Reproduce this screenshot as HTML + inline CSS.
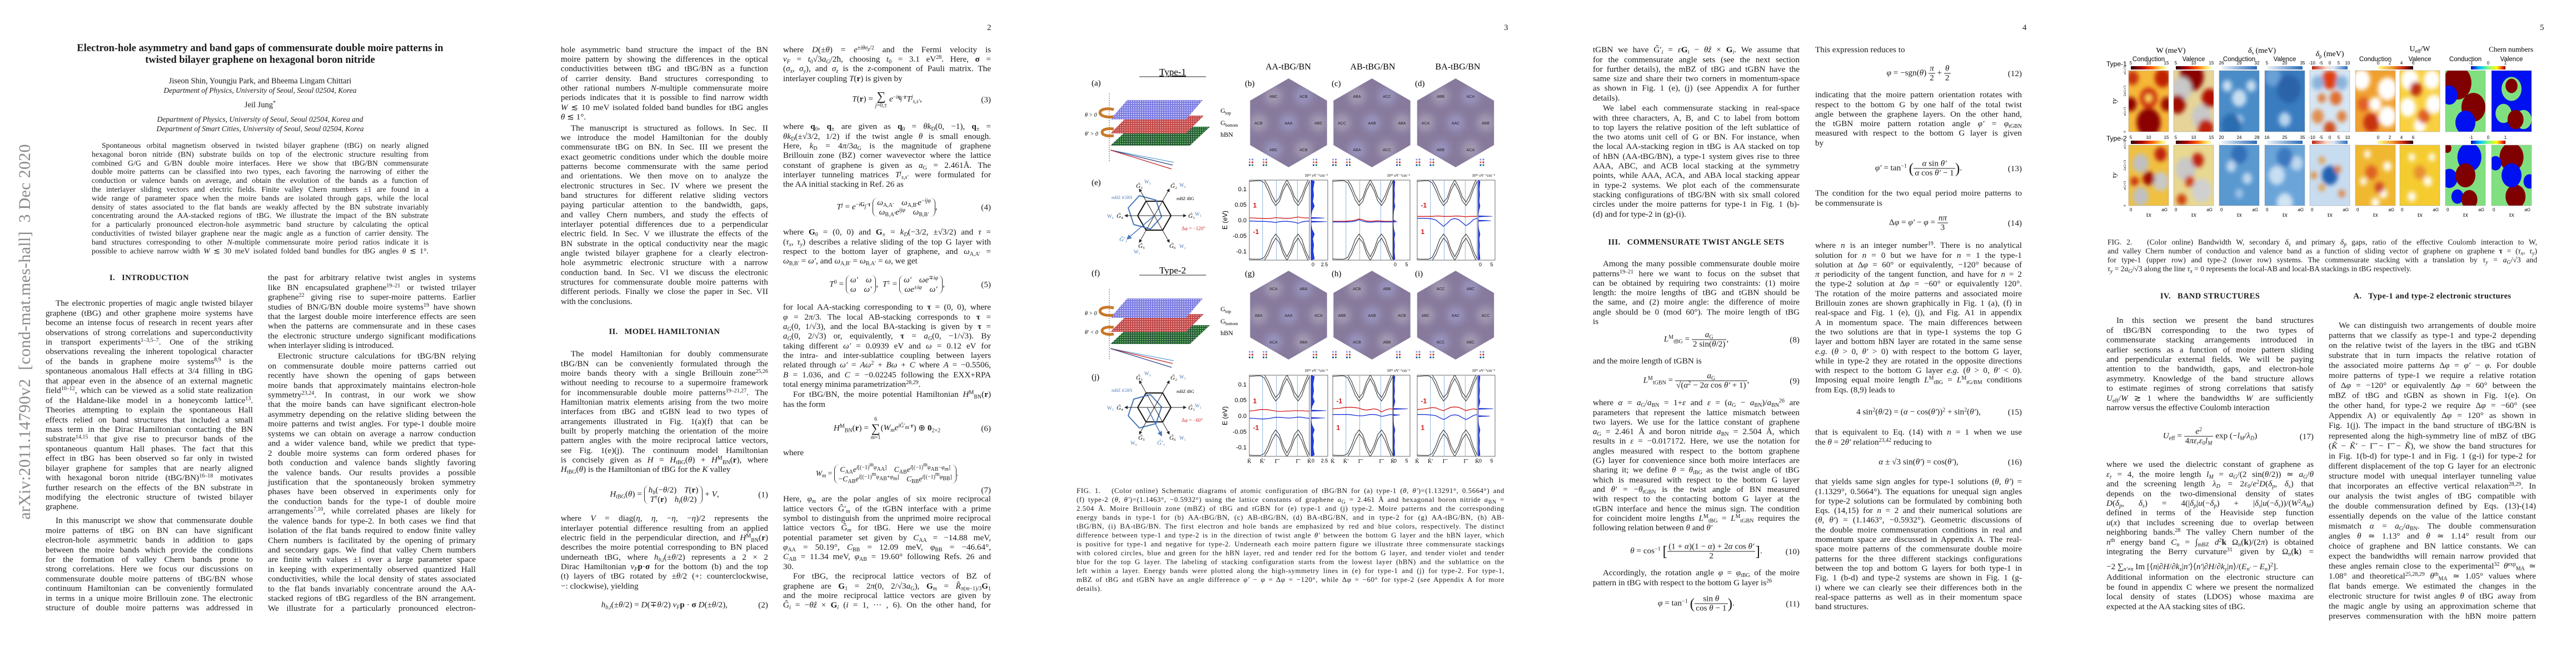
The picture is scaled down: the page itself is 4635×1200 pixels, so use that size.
<!DOCTYPE html>
<html>
<head>
<meta charset="utf-8">
<style>
html,body{margin:0;padding:0;background:#fff;}
body{width:4635px;height:1200px;position:relative;overflow:hidden;font-family:"Liberation Serif",serif;color:#1a1a1a;}
.pg{position:absolute;top:0;width:927px;height:1200px;background:#fff;overflow:hidden;}
.pn{position:absolute;top:41px;font-size:15px;line-height:18px;}
.col{position:absolute;top:0;height:1200px;}
.blk{position:absolute;left:0;width:100%;font-size:15.2px;}
.blk>div{white-space:nowrap;text-align:justify;text-align-last:justify;height:var(--lh,17.4px);line-height:var(--lh,17.4px);}
.blk>div.e{text-align-last:left;}
.blk>div.i{text-indent:18px;}
sup{font-size:10px;line-height:0;vertical-align:5px;}
sub{font-size:10px;line-height:0;vertical-align:-3px;}
.h{position:absolute;left:0;width:100%;text-align:center;font-weight:bold;font-size:14.5px;letter-spacing:0.4px;line-height:18px;}
.eq{position:absolute;left:0;width:100%;text-align:center;font-size:15.2px;line-height:17px;transform:translateY(-50%);white-space:nowrap;}
.eq .n{position:absolute;right:0;top:50%;transform:translateY(-50%);}
.mat{display:inline-block;vertical-align:middle;border-left:1.5px solid #222;border-right:1.5px solid #222;border-radius:9px;padding:0 7px;line-height:17px;text-align:center;}
.mat>span{display:block;word-spacing:10px;}
.fr{display:inline-block;vertical-align:middle;text-align:center;line-height:16px;}
.fr>span{display:block;padding:0 2px;}
.fr>span:first-child{border-bottom:1px solid #222;}
.sm{display:inline-block;vertical-align:middle;text-align:center;line-height:11px;font-size:10px;}
.sm b{display:block;font-size:22px;line-height:22px;font-weight:normal;}
.cap{position:absolute;white-space:nowrap;text-align:justify;text-align-last:justify;}
</style>
</head>
<body>

<!-- ================= PAGE 1 ================= -->
<div class="pg" style="left:0">
  <div style="position:absolute;left:45px;top:597px;transform:translate(-50%,-50%) rotate(-90deg);white-space:nowrap;font-size:30px;color:#8a8a8a;letter-spacing:0.3px;">arXiv:2011.14790v2&nbsp; [cond-mat.mes-hall]&nbsp; 3 Dec 2020</div>
  <div style="position:absolute;left:40px;width:856px;top:77px;text-align:center;font-weight:bold;font-size:18.5px;line-height:21px;white-space:nowrap;">Electron-hole asymmetry and band gaps of commensurate double moire patterns in<br>twisted bilayer graphene on hexagonal boron nitride</div>
  <div style="position:absolute;left:68px;width:800px;top:0;text-align:center;font-size:14.5px;">
    <div style="position:absolute;top:138px;width:100%;">Jiseon Shin, Youngju Park, and Bheema Lingam Chittari</div>
    <div style="position:absolute;top:155px;width:100%;font-style:italic;font-size:13.5px;">Department of Physics, University of Seoul, Seoul 02504, Korea</div>
    <div style="position:absolute;top:181px;width:100%;">Jeil Jung<sup>*</sup></div>
    <div style="position:absolute;top:207px;width:100%;font-style:italic;font-size:13.5px;">Department of Physics, University of Seoul, Seoul 02504, Korea and</div>
    <div style="position:absolute;top:224px;width:100%;font-style:italic;font-size:13.5px;">Department of Smart Cities, University of Seoul, Seoul 02504, Korea</div>
  </div>
  <div class="col" style="left:165px;width:606px;">
    <div class="blk" style="top:254px;--lh:15.8px;font-size:13.8px;">
      <div class="i">Spontaneous orbital magnetism observed in twisted bilayer graphene (tBG) on nearly aligned</div>
      <div>hexagonal boron nitride (BN) substrate builds on top of the electronic structure resulting from</div>
      <div>combined G/G and G/BN double moire interfaces. Here we show that tBG/BN commensurate</div>
      <div>double moire patterns can be classified into two types, each favoring the narrowing of either the</div>
      <div>conduction or valence bands on average, and obtain the evolution of the bands as a function of</div>
      <div>the interlayer sliding vectors and electric fields. Finite valley Chern numbers ±1 are found in a</div>
      <div>wide range of parameter space when the moire bands are isolated through gaps, while the local</div>
      <div>density of states associated to the flat bands are weakly affected by the BN substrate invariably</div>
      <div>concentrating around the AA-stacked regions of tBG. We illustrate the impact of the BN substrate</div>
      <div>for a particularly pronounced electron-hole asymmetric band structure by calculating the optical</div>
      <div>conductivities of twisted bilayer graphene near the magic angle as a function of carrier density. The</div>
      <div>band structures corresponding to other <i>N</i>-multiple commensurate moire period ratios indicate it is</div>
      <div>possible to achieve narrow width <i>W</i> ≲ 30 meV isolated folded band bundles for tBG angles <i>θ</i> ≲ 1°.</div>
    </div>
  </div>
  <div class="col" style="left:82px;width:373px;">
    <div class="h" style="top:491px;">I.&nbsp;&nbsp; INTRODUCTION</div>
    <div class="blk" style="top:537.3px;--lh:17.45px;">
      <div class="i">The electronic properties of magic angle twisted bilayer</div>
      <div>graphene (tBG) and other graphene moire systems have</div>
      <div>become an intense focus of research in recent years after</div>
      <div>observations of strong correlations and superconductivity</div>
      <div>in transport experiments<sup>1–3,5–7</sup>. One of the striking</div>
      <div>observations revealing the inherent topological character</div>
      <div>of the bands in graphene moire systems<sup>8,9</sup> is the</div>
      <div>spontaneous anomalous Hall effects at 3/4 filling in tBG</div>
      <div>that appear even in the absence of an external magnetic</div>
      <div>field<sup>10–12</sup>, which can be viewed as a solid state realization</div>
      <div>of the Haldane-like model in a honeycomb lattice<sup>13</sup>.</div>
      <div>Theories attempting to explain the spontaneous Hall</div>
      <div>effects relied on band structures that included a small</div>
      <div>mass term in the Dirac Hamiltonian contacting the BN</div>
      <div>substrate<sup>14,15</sup> that give rise to precursor bands of the</div>
      <div>spontaneous quantum Hall phases. The fact that this</div>
      <div>effect in tBG has been observed so far only in twisted</div>
      <div>bilayer graphene for samples that are nearly aligned</div>
      <div>with hexagonal boron nitride (tBG/BN)<sup>16–18</sup> motivates</div>
      <div>further research on the effects of the BN substrate in</div>
      <div>modifying the electronic structure of twisted bilayer</div>
      <div class="e">graphene.</div>
    </div>
    <div class="blk" style="top:928.3px;--lh:17.45px;">
      <div class="i">In this manuscript we show that commensurate double</div>
      <div>moire patterns of tBG on BN can have significant</div>
      <div>electron-hole asymmetric bands in addition to gaps</div>
      <div>between the moire bands which provide the conditions</div>
      <div>for the formation of valley Chern bands prone to</div>
      <div>strong correlations. Here we focus our discussions on</div>
      <div>commensurate double moire patterns of tBG/BN whose</div>
      <div>continuum Hamiltonian can be conveniently formulated</div>
      <div>in terms in a unique moire Brillouin zone. The electronic</div>
      <div>structure of double moire patterns was addressed in</div>
    </div>
  </div>
  <div class="col" style="left:482px;width:374px;">
    <div class="blk" style="top:491.3px;--lh:17.45px;">
      <div>the past for arbitrary relative twist angles in systems</div>
      <div>like BN encapsulated graphene<sup>19–21</sup> or twisted trilayer</div>
      <div>graphene<sup>22</sup> giving rise to super-moire patterns. Earlier</div>
      <div>studies of BN/G/BN double moire systems<sup>19</sup> have shown</div>
      <div>that the largest double moire interference effects are seen</div>
      <div>when the patterns are commensurate and in these cases</div>
      <div>the electronic structure undergo significant modifications</div>
      <div class="e">when interlayer sliding is introduced.</div>
    </div>
    <div class="blk" style="top:632.3px;--lh:17.45px;">
      <div class="i">Electronic structure calculations for tBG/BN relying</div>
      <div>on commensurate double moire patterns carried out</div>
      <div>recently have shown the opening of gaps between</div>
      <div>moire bands that approximately maintains electron-hole</div>
      <div>symmetry<sup>23,24</sup>. In contrast, in our work we show</div>
      <div>that the moire bands can have significant electron-hole</div>
      <div>asymmetry depending on the relative sliding between the</div>
      <div>moire patterns and twist angles. For type-1 double moire</div>
      <div>systems we can obtain on average a narrow conduction</div>
      <div>and a wider valence band, while we predict that type-</div>
      <div>2 double moire systems can form ordered phases for</div>
      <div>both conduction and valence bands slightly favoring</div>
      <div>the valence bands. Our results provides a possible</div>
      <div>justification that the spontaneously broken symmetry</div>
      <div>phases have been observed in experiments only for</div>
      <div>the conduction bands for the type-1 of double moire</div>
      <div>arrangements<sup>7,10</sup>, while correlated phases are likely for</div>
      <div>the valence bands for type-2. In both cases we find that</div>
      <div>isolation of the flat bands required to endow finite valley</div>
      <div>Chern numbers is facilitated by the opening of primary</div>
      <div>and secondary gaps. We find that valley Chern numbers</div>
      <div>are finite with values ±1 over a large parameter space</div>
      <div>in keeping with experimentally observed quantized Hall</div>
      <div>conductivities, while the local density of states associated</div>
      <div>to the flat bands invariably concentrate around the AA-</div>
      <div>stacked regions of tBG regardless of the BN arrangement.</div>
      <div>We illustrate for a particularly pronounced electron-</div>
    </div>
  </div>
</div>

<!-- ================= PAGE 2 ================= -->
<div class="pg" style="left:927px">
  <div class="pn" style="left:849px">2</div>
  <div class="col" style="left:82px;width:373px;">
    <div class="blk" style="top:80.7px;--lh:17.35px;">
      <div>hole asymmetric band structure the impact of the BN</div>
      <div>moire pattern by showing the differences in the optical</div>
      <div>conductivities between tBG and tBG/BN as a function</div>
      <div>of carrier density. Band structures corresponding to</div>
      <div>other rational numbers <i>N</i>-multiple commensurate moire</div>
      <div>periods indicates that it is possible to find narrow width</div>
      <div><i>W</i> ≲ 10 meV isolated folded band bundles for tBG angles</div>
      <div class="e"><i>θ</i> ≲ 1°.</div>
    </div>
    <div class="blk" style="top:221.6px;--lh:17.35px;">
      <div class="i">The manuscript is structured as follows. In Sec. II</div>
      <div>we introduce the model Hamiltonian for the doubly</div>
      <div>commensurate tBG on BN. In Sec. III we present the</div>
      <div>exact geometric conditions under which the double moire</div>
      <div>patterns become commensurate with the same period</div>
      <div>and orientations. We then move on to analyze the</div>
      <div>electronic structures in Sec. IV where we present the</div>
      <div>band structures for different relative sliding vectors</div>
      <div>paying particular attention to the bandwidth, gaps,</div>
      <div>and valley Chern numbers, and study the effects of</div>
      <div>interlayer potential differences due to a perpendicular</div>
      <div>electric field. In Sec. V we illustrate the effects of the</div>
      <div>BN substrate in the optical conductivity near the magic</div>
      <div>angle twisted bilayer graphene for a clearly electron-</div>
      <div>hole asymmetric electronic structure with a narrow</div>
      <div>conduction band. In Sec. VI we discuss the electronic</div>
      <div>structures for commensurate double moire patterns with</div>
      <div>different periods. Finally we close the paper in Sec. VII</div>
      <div class="e">with the conclusions.</div>
    </div>
    <div class="h" style="top:588px;">II.&nbsp;&nbsp; MODEL HAMILTONIAN</div>
    <div class="blk" style="top:628.3px;--lh:17.35px;">
      <div class="i">The model Hamiltonian for doubly commensurate</div>
      <div>tBG/BN can be conveniently formulated through the</div>
      <div>moire bands theory with a single Brillouin zone<sup>25,26</sup></div>
      <div>without needing to recourse to a supermoire framework</div>
      <div>for incommensurable double moire patterns<sup>19–21,27</sup>. The</div>
      <div>Hamiltonian matrix elements arising from the two moire</div>
      <div>interfaces from tBG and tGBN lead to two types of</div>
      <div>arrangements illustrated in Fig. 1(a)(f) that can be</div>
      <div>built by properly matching the orientation of the moire</div>
      <div>pattern angles with the moire reciprocal lattice vectors,</div>
      <div>see Fig. 1(e)(j). The continuum model Hamiltonian</div>
      <div>is concisely given as <i>H</i> = <i>H</i><sub>tBG</sub>(<i>θ</i>) + <i>H</i><sup>M</sup><sub>BN</sub>(<b>r</b>), where</div>
      <div class="e"><i>H</i><sub>tBG</sub>(<i>θ</i>) is the Hamiltonian of tBG for the <i>K</i> valley</div>
    </div>
    <div class="eq" style="top:890px;"><i>H</i><sub>tBG</sub>(<i>θ</i>) = <span class="mat"><span><i>h<sub>b</sub></i>(−<i>θ</i>/2) <i>T</i>(<b>r</b>)</span><span><i>T</i><sup>†</sup>(<b>r</b>) <i>h<sub>t</sub></i>(<i>θ</i>/2)</span></span> + <i>V</i>,<span class="n">(1)</span></div>
    <div class="blk" style="top:924.3px;--lh:17.35px;">
      <div>where <i>V</i> = diag(<i>η</i>, <i>η</i>, −<i>η</i>, −<i>η</i>)/2 represents the</div>
      <div>interlayer potential difference resulting from an applied</div>
      <div>electric field in the perpendicular direction, and <i>H</i><sup>M</sup><sub>BN</sub>(<b>r</b>)</div>
      <div>describes the moire potential corresponding to BN placed</div>
      <div>underneath tBG, where <i>h<sub>b,t</sub></i>(±<i>θ</i>/2) represents a 2 × 2</div>
      <div>Dirac Hamiltonian <i>v<sub>F</sub></i><b>p</b>·<b>σ</b> for the bottom (b) and the top</div>
      <div>(t) layers of tBG rotated by ±<i>θ</i>/2 (+: counterclockwise,</div>
      <div class="e">−: clockwise), yielding</div>
    </div>
    <div class="eq" style="top:1088px;"><i>h<sub>b,t</sub></i>(±<i>θ</i>/2) = <i>D</i>(∓<i>θ</i>/2) <i>v<sub>F</sub></i><b>p</b> · <b>σ</b> <i>D</i>(±<i>θ</i>/2),<span class="n">(2)</span></div>
  </div>
  <div class="col" style="left:482px;width:374px;">
    <div class="blk" style="top:80.7px;--lh:17.35px;">
      <div>where <i>D</i>(±<i>θ</i>) = <i>e</i><sup>±<i>iθσ<sub>z</sub></i>/2</sup> and the Fermi velocity is</div>
      <div><i>v<sub>F</sub></i> = <i>t</i><sub>0</sub>√3<i>a<sub>G</sub></i>/2ħ, choosing <i>t</i><sub>0</sub> = 3.1 eV<sup>28</sup>. Here, <b>σ</b> =</div>
      <div>(<i>σ<sub>x</sub></i>, <i>σ<sub>y</sub></i>), and <i>σ<sub>z</sub></i> is the <i>z</i>-component of Pauli matrix. The</div>
      <div class="e">interlayer coupling <i>T</i>(<b>r</b>) is given by</div>
    </div>
    <div class="eq" style="top:179px;"><i>T</i>(<b>r</b>) = <span class="sm"><b>∑</b><i>j</i>=0,±</span> <i>e</i><sup>−<i>i</i><b>q</b><sub><i>j</i></sub>·<b>r</b></sup><i>T</i><sup><i>j</i></sup><sub><i>s,s′</i></sub>,<span class="n">(3)</span></div>
    <div class="blk" style="top:219.3px;--lh:17.35px;">
      <div>where <b>q</b><sub>0</sub>, <b>q</b><sub>±</sub> are given as <b>q</b><sub>0</sub> = <i>θk</i><sub>D</sub>(0, −1), <b>q</b><sub>±</sub> =</div>
      <div><i>θk</i><sub>D</sub>(±√3/2, 1/2) if the twist angle <i>θ</i> is small enough.</div>
      <div>Here, <i>k</i><sub>D</sub> = 4<i>π</i>/3<i>a</i><sub>G</sub> is the magnitude of graphene</div>
      <div>Brillouin zone (BZ) corner wavevector where the lattice</div>
      <div>constant of graphene is given as <i>a</i><sub>G</sub> = 2.461Å. The</div>
      <div>interlayer tunneling matrices <i>T</i><sup><i>j</i></sup><sub><i>s,s′</i></sub> were formulated for</div>
      <div class="e">the AA initial stacking in Ref. 26 as</div>
    </div>
    <div class="eq" style="top:373px;"><i>T</i><sup><i>j</i></sup> = <i>e</i><sup>−<i>i</i><b>G</b><sub><i>j</i></sub>·<b>τ</b></sup> <span class="mat"><span><i>ω</i><sub>A,A′</sub> <i>ω</i><sub>A,B′</sub><i>e</i><sup>−<i>ijφ</i></sup></span><span><i>ω</i><sub>B,A′</sub><i>e</i><sup><i>ijφ</i></sup> <i>ω</i><sub>B,B′</sub></span></span>,<span class="n">(4)</span></div>
    <div class="blk" style="top:409.3px;--lh:17.35px;">
      <div>where <b>G</b><sub>0</sub> = (0, 0) and <b>G</b><sub>±</sub> = <i>k<sub>D</sub></i>(−3/2, ±√3/2) and <i>τ</i> =</div>
      <div>(<i>τ<sub>x</sub></i>, <i>τ<sub>y</sub></i>) describes a relative sliding of the top G layer with</div>
      <div>respect to the bottom layer of graphene, and <i>ω</i><sub>A,A′</sub> =</div>
      <div class="e"><i>ω</i><sub>B,B′</sub> = <i>ω′</i>, and <i>ω</i><sub>A,B′</sub> = <i>ω</i><sub>B,A′</sub> = <i>ω</i>, we get</div>
    </div>
    <div class="eq" style="top:512px;"><i>T</i><sup>0</sup> = <span class="mat"><span><i>ω′</i> <i>ω</i></span><span><i>ω</i> <i>ω′</i></span></span>, &nbsp;<i>T</i><sup>±</sup> = <span class="mat"><span><i>ω′</i> <i>ωe</i><sup>∓<i>iφ</i></sup></span><span><i>ωe</i><sup>±<i>iφ</i></sup> <i>ω′</i></span></span>,<span class="n">(5)</span></div>
    <div class="blk" style="top:544.3px;--lh:17.35px;">
      <div>for local AA-stacking corresponding to <b>τ</b> = (0, 0), where</div>
      <div><i>φ</i> = 2<i>π</i>/3. The local AB-stacking corresponds to <b>τ</b> =</div>
      <div><i>a<sub>G</sub></i>(0, 1/√3), and the local BA-stacking is given by <b>τ</b> =</div>
      <div><i>a<sub>G</sub></i>(0, 2/√3) or, equivalently, <b>τ</b> = <i>a<sub>G</sub></i>(0, −1/√3). By</div>
      <div>taking different <i>ω′</i> = 0.0939 eV and <i>ω</i> = 0.12 eV for</div>
      <div>the intra- and inter-sublattice coupling between layers</div>
      <div>related through <i>ω′</i> = <i>Aω</i><sup>2</sup> + <i>Bω</i> + <i>C</i> where <i>A</i> = −0.5506,</div>
      <div><i>B</i> = 1.036, and <i>C</i> = −0.02245 following the EXX+RPA</div>
      <div class="e">total energy minima parametrization<sup>28,29</sup>.</div>
    </div>
    <div class="blk" style="top:701.3px;--lh:17.35px;">
      <div class="i">For tBG/BN, the moire potential Hamiltonian <i>H</i><sup>M</sup><sub>BN</sub>(<b>r</b>)</div>
      <div class="e">has the form</div>
    </div>
    <div class="eq" style="top:771px;"><i>H</i><sup>M</sup><sub>BN</sub>(<b>r</b>) = <span class="sm">6<b>∑</b><i>m</i>=1</span>(<i>W<sub>m</sub>e</i><sup><i>i</i>G̃′<sub><i>m</i></sub>·<b>r</b></sup>) ⊕ <b>0</b><sub>2×2</sub><span class="n">(6)</span></div>
    <div class="blk" style="top:806.3px;--lh:17.35px;"><div class="e">where</div></div>
    <div class="eq" style="top:853px;font-size:13.5px;"><i>W<sub>m</sub></i> = <span class="mat"><span><i>C</i><sub>AA</sub><i>e</i><sup><i>i</i>[(−1)<sup>m</sup><i>φ</i><sub>AA</sub>]</sup> <i>C</i><sub>AB</sub><i>e</i><sup><i>i</i>[(−1)<sup>m</sup><i>φ</i><sub>AB</sub>−<i>φ<sub>m</sub></i>]</sup></span><span>−<i>C</i><sub>AB</sub><i>e</i><sup><i>i</i>[(−1)<sup>m</sup><i>φ</i><sub>AB</sub>+<i>φ<sub>m</sub></i>]</sup> <i>C</i><sub>BB</sub><i>e</i><sup><i>i</i>[(−1)<sup>m</sup><i>φ</i><sub>BB</sub>]</sup></span></span>.</div>
    <div class="eq" style="top:882px;text-align:right;">(7)</div>
    <div class="blk" style="top:889.3px;--lh:17.35px;">
      <div>Here, <i>φ<sub>m</sub></i> are the polar angles of six moire reciprocal</div>
      <div>lattice vectors G̃′<sub><i>m</i></sub> of the tGBN interface with a prime</div>
      <div>symbol to distinguish from the unprimed moire reciprocal</div>
      <div>lattice vectors G̃<sub><i>m</i></sub> for tBG. Here we use the moire</div>
      <div>potential parameter set given by <i>C</i><sub>AA</sub> = −14.88 meV,</div>
      <div><i>φ</i><sub>AA</sub> = 50.19°, <i>C</i><sub>BB</sub> = 12.09 meV, <i>φ</i><sub>BB</sub> = −46.64°,</div>
      <div><i>C</i><sub>AB</sub> = 11.34 meV, <i>φ</i><sub>AB</sub> = 19.60° following Refs. 26 and</div>
      <div class="e">30.</div>
    </div>
    <div class="blk" style="top:1028.3px;--lh:17.35px;">
      <div class="i">For tBG, the reciprocal lattice vectors of BZ of</div>
      <div>graphene are <b>G</b><sub>1</sub> = 2<i>π</i>(0, 2/√3<i>a</i><sub>G</sub>), <b>G</b><sub><i>m</i></sub> = <i>R̂</i><sub><i>π</i>(<i>m</i>−1)/3</sub><b>G</b><sub>1</sub></div>
      <div>and the moire reciprocal lattice vectors are given by</div>
      <div>G̃<sub><i>i</i></sub> = −<i>θẑ</i> × <b>G</b><sub><i>i</i></sub> (<i>i</i> = 1, ··· , 6). On the other hand, for</div>
    </div>
  </div>
</div>

<!-- ================= PAGE 3 ================= -->
<div class="pg" style="left:1854px">
  <div class="pn" style="left:852px">3</div>
  <svg id="fig1" width="927" height="880" style="position:absolute;left:0;top:0;font-family:'Liberation Serif',serif">
    <defs>
      <pattern id="pbl" width="4" height="4" patternUnits="userSpaceOnUse"><rect width="4" height="4" fill="#7b7be0"/><circle cx="2" cy="2" r="1.1" fill="#d8d8ff"/></pattern>
      <pattern id="prd" width="4" height="4" patternUnits="userSpaceOnUse"><rect width="4" height="4" fill="#c04848"/><circle cx="2" cy="2" r="1.1" fill="#f4a8a8"/></pattern>
      <pattern id="pgr" width="4" height="4" patternUnits="userSpaceOnUse"><rect width="4" height="4" fill="#2a5a3a"/><circle cx="2" cy="2" r="1.1" fill="#70d070"/></pattern>
      <filter id="blur3"><feGaussianBlur stdDeviation="6"/></filter>
      <marker id="arr" markerWidth="6" markerHeight="6" refX="5" refY="3" orient="auto"><path d="M0,0 L6,3 L0,6 z" fill="#222"/></marker>
      <marker id="arrb" markerWidth="6" markerHeight="6" refX="5" refY="3" orient="auto"><path d="M0,0 L6,3 L0,6 z" fill="#4a78b8"/></marker>
    </defs>
    <!-- Type-1 stack -->
    <g>
      <text x="256" y="135" text-anchor="middle" font-size="17" text-decoration="underline">Type-1</text>
      <line x1="196" y1="138" x2="316" y2="138" stroke="#222" stroke-width="1"/>
      <text x="110" y="154" font-size="15">(a)</text>
      <line x1="142" y1="168" x2="142" y2="290" stroke="#555" stroke-dasharray="2,2"/>
      <polygon points="144,262 180,228 323,228 287,262" fill="url(#pgr)"/>
      <polygon points="144,240 176,208 312,208 280,240" fill="url(#prd)"/>
      <polygon points="144,215 174,180 310,180 280,215" fill="url(#pbl)"/>
      <path d="M150,197 C118,190 116,214 150,210" stroke="#c8782a" stroke-width="5" fill="none"/>
      <path d="M150,232 C122,228 122,248 150,244" stroke="#c8782a" stroke-width="5" fill="none"/>
      <text x="98" y="210" font-size="10" font-style="italic">θ &gt; 0</text>
      <text x="98" y="244" font-size="10" font-style="italic">θ′ &gt; 0</text>
      <line x1="144" y1="270" x2="258" y2="292" stroke="#5aa0d8" stroke-width="1.2"/>
      <line x1="144" y1="270" x2="256" y2="297" stroke="#304080" stroke-width="1.2"/>
      <line x1="144" y1="270" x2="254" y2="304" stroke="#c02020" stroke-width="1.2"/>
      <text x="342" y="203" font-size="12">G<tspan font-size="8" dy="3">top</tspan></text>
      <text x="342" y="225" font-size="12">G<tspan font-size="8" dy="3">bottom</tspan></text>
      <text x="342" y="246" font-size="12">hBN</text>
    </g>
    <g transform="translate(0,357)">
      <text x="256" y="135" text-anchor="middle" font-size="17">Type-2</text>
      <line x1="196" y1="138" x2="316" y2="138" stroke="#222" stroke-width="1"/>
      <text x="110" y="139" font-size="15">(f)</text>
      <line x1="142" y1="163" x2="142" y2="290" stroke="#555" stroke-dasharray="2,2"/>
      <polygon points="144,262 180,228 323,228 287,262" fill="url(#pgr)"/>
      <polygon points="144,240 176,208 312,208 280,240" fill="url(#prd)"/>
      <polygon points="144,215 174,180 310,180 280,215" fill="url(#pbl)"/>
      <path d="M150,197 C118,190 116,214 150,210" stroke="#c8782a" stroke-width="5" fill="none"/>
      <path d="M150,244 C122,248 122,228 150,232" stroke="#c8782a" stroke-width="5" fill="none"/>
      <text x="98" y="210" font-size="10" font-style="italic">θ &gt; 0</text>
      <text x="98" y="244" font-size="10" font-style="italic">θ′ &lt; 0</text>
      <line x1="144" y1="270" x2="258" y2="292" stroke="#5aa0d8" stroke-width="1.2"/>
      <line x1="144" y1="270" x2="256" y2="297" stroke="#c02020" stroke-width="1.2"/>
      <line x1="144" y1="270" x2="254" y2="304" stroke="#304080" stroke-width="1.2"/>
      <text x="342" y="203" font-size="12">G<tspan font-size="8" dy="3">top</tspan></text>
      <text x="342" y="225" font-size="12">G<tspan font-size="8" dy="3">bottom</tspan></text>
      <text x="342" y="246" font-size="12">hBN</text>
    </g>
    <!-- mBZ diagrams -->
    <g font-size="9">
      <text x="110" y="333" font-size="15">(e)</text>
      <polygon points="253,388 238,362 208,362 193,388 208,414 238,414" fill="none" stroke="#111" stroke-width="2"/>
      <polygon points="226,360 196,352 176,374 186,404 216,412 236,390" fill="none" stroke="#4a78b8" stroke-width="2"/>
      <line x1="223" y1="388" x2="280" y2="388" stroke="#222" marker-end="url(#arr)"/>
      <line x1="223" y1="388" x2="170" y2="388" stroke="#222" marker-end="url(#arr)"/>
      <line x1="223" y1="388" x2="250" y2="340" stroke="#222" marker-end="url(#arr)"/>
      <line x1="223" y1="388" x2="196" y2="340" stroke="#222" marker-end="url(#arr)"/>
      <line x1="223" y1="388" x2="250" y2="436" stroke="#222" marker-end="url(#arr)"/>
      <line x1="223" y1="388" x2="196" y2="436" stroke="#222" marker-end="url(#arr)"/>
      <line x1="223" y1="388" x2="174" y2="430" stroke="#4a78b8" stroke-width="1.5" marker-end="url(#arrb)"/>
      <text x="284" y="392" font-size="11" font-style="italic">G̃₁</text><text x="296" y="388" fill="#4a78b8">W₃</text>
      <text x="252" y="338" font-size="11" font-style="italic">G̃₂</text><text x="268" y="336" fill="#4a78b8">W₄</text>
      <text x="190" y="338" font-size="11" font-style="italic">G̃₃</text><text x="205" y="330" fill="#4a78b8">W₅</text>
      <text x="155" y="392" font-size="11" font-style="italic">G̃₄</text><text x="138" y="392" fill="#4a78b8">W₆</text>
      <text x="194" y="446" font-size="11" font-style="italic">G̃₅</text><text x="186" y="456" fill="#4a78b8">W₁</text>
      <text x="250" y="446" font-size="11" font-style="italic">G̃₆</text><text x="268" y="446" fill="#4a78b8">W₂</text>
      <text x="160" y="434" fill="#4a78b8" font-size="11" font-style="italic">G̃′₁</text>
      <text x="263" y="360" font-size="8">mBZ tBG</text>
      <text x="146" y="358" font-size="8" fill="#4a78b8">mBZ tGBN</text>
      <text x="272" y="414" fill="#d03030">Δφ = −120°</text>
    </g>
    <g font-size="9">
      <text x="110" y="683" font-size="15">(j)</text>
      <polygon points="253,733 238,707 208,707 193,733 208,759 238,759" fill="none" stroke="#111" stroke-width="2"/>
      <polygon points="238,762 208,770 188,748 198,718 228,710 248,732" fill="none" stroke="#4a78b8" stroke-width="2" transform="translate(-12,0)"/>
      <line x1="223" y1="733" x2="280" y2="733" stroke="#222" marker-end="url(#arr)"/>
      <line x1="223" y1="733" x2="170" y2="733" stroke="#222" marker-end="url(#arr)"/>
      <line x1="223" y1="733" x2="250" y2="685" stroke="#222" marker-end="url(#arr)"/>
      <line x1="223" y1="733" x2="196" y2="685" stroke="#222" marker-end="url(#arr)"/>
      <line x1="223" y1="733" x2="250" y2="781" stroke="#222" marker-end="url(#arr)"/>
      <line x1="223" y1="733" x2="196" y2="781" stroke="#222" marker-end="url(#arr)"/>
      <line x1="210" y1="733" x2="236" y2="784" stroke="#4a78b8" stroke-width="1.5" marker-end="url(#arrb)"/>
      <text x="284" y="737" font-size="11" font-style="italic">G̃₁</text><text x="296" y="733" fill="#4a78b8">W₂</text>
      <text x="252" y="683" font-size="11" font-style="italic">G̃₂</text><text x="268" y="681" fill="#4a78b8">W₃</text>
      <text x="190" y="683" font-size="11" font-style="italic">G̃₃</text><text x="205" y="675" fill="#4a78b8">W₄</text>
      <text x="155" y="737" font-size="11" font-style="italic">G̃₄</text><text x="138" y="737" fill="#4a78b8">W₅</text>
      <text x="194" y="791" font-size="11" font-style="italic">G̃₅</text><text x="180" y="800" fill="#4a78b8">W₆</text>
      <text x="250" y="791" font-size="11" font-style="italic">G̃₆</text><text x="268" y="791" fill="#4a78b8">W₁</text>
      <text x="228" y="800" fill="#4a78b8" font-size="11" font-style="italic">G̃′₁</text>
      <text x="263" y="707" font-size="8">mBZ tBG</text>
      <text x="146" y="705" font-size="8" fill="#4a78b8">mBZ tGBN</text>
      <text x="272" y="759" fill="#d03030">Δφ = −60°</text>
    </g>
    <g id="fig1-titles" font-size="15">
      <text x="464" y="125" text-anchor="middle" font-size="16">AA-tBG/BN</text>
      <text x="616" y="125" text-anchor="middle" font-size="16">AB-tBG/BN</text>
      <text x="769" y="125" text-anchor="middle" font-size="16">BA-tBG/BN</text>
      <text x="386" y="155">(b)</text><text x="542" y="155">(c)</text><text x="692" y="155">(d)</text>
      <text x="386" y="497">(g)</text><text x="542" y="497">(h)</text><text x="692" y="497">(i)</text>
    </g>
    <g id="fig1-hex"></g>
    <g id="fig1-bands" font-family="'Liberation Sans',sans-serif"></g>
  </svg>
  <div style="position:absolute;left:83px;top:0;width:770px;font-size:12.9px;letter-spacing:0.55px;">
    <div class="cap" style="top:876px;width:770px;">FIG. 1.&nbsp;&nbsp; (Color online) Schematic diagrams of atomic configuration of tBG/BN for (a) type-1 (<i>θ</i>, <i>θ′</i>)=(1.13291°, 0.5664°) and</div>
    <div class="cap" style="top:892px;width:770px;">(f) type-2 (<i>θ</i>, <i>θ′</i>)=(1.1463°, −0.5932°) using the lattice constants of graphene <i>a</i><sub>G</sub> = 2.461 Å and hexagonal boron nitride <i>a</i><sub>BN</sub> =</div>
    <div class="cap" style="top:908px;width:770px;">2.504 Å. Moire Brillouin zone (mBZ) of tBG and tGBN for (e) type-1 and (j) type-2. Moire patterns and the corresponding</div>
    <div class="cap" style="top:924px;width:770px;">energy bands in type-1 for (b) AA-tBG/BN, (c) AB-tBG/BN, (d) BA-tBG/BN, and in type-2 for (g) AA-tBG/BN, (h) AB-</div>
    <div class="cap" style="top:940px;width:770px;">tBG/BN, (i) BA-tBG/BN. The first electron and hole bands are emphasized by red and blue colors, respectively. The distinct</div>
    <div class="cap" style="top:956px;width:770px;">difference between type-1 and type-2 is in the direction of twist angle <i>θ′</i> between the bottom G layer and the hBN layer, which</div>
    <div class="cap" style="top:972px;width:770px;">is positive for type-1 and negative for type-2. Underneath each moire pattern figure we illustrate three commensurate stackings</div>
    <div class="cap" style="top:988px;width:770px;">with colored circles, blue and green for the hBN layer, red and tender red for the bottom G layer, and tender violet and tender</div>
    <div class="cap" style="top:1004px;width:770px;">blue for the top G layer. The labeling of stacking configuration starts from the lowest layer (hBN) and the sublattice on the</div>
    <div class="cap" style="top:1020px;width:770px;">left within a layer. Energy bands were plotted along the high-symmetry lines in (e) for type-1 and (j) for type-2. For type-1,</div>
    <div class="cap" style="top:1036px;width:770px;">mBZ of tBG and tGBN have an angle difference <i>φ′</i> − <i>φ</i> = Δ<i>φ</i> = −120°, while Δ<i>φ</i> = −60° for type-2 (see Appendix A for more</div>
    <div class="cap" style="top:1052px;text-align-last:left;">details).</div>
  </div>
</div>

<!-- ================= PAGE 4 ================= -->
<div class="pg" style="left:2781px">
  <div class="pn" style="left:858px">4</div>
  <div class="col" style="left:85px;width:372px;">
    <div class="blk" style="top:81.3px;--lh:17.3px;">
      <div>tGBN we have G̃′<sub><i>i</i></sub> = <i>ε</i><b>G</b><sub><i>i</i></sub> − <i>θẑ</i> × <b>G</b><sub><i>i</i></sub>. We assume that</div>
      <div>for the commensurate angle sets (see the next section</div>
      <div>for further details), the mBZ of tBG and tGBN have the</div>
      <div>same size and share their two corners in momentum-space</div>
      <div>as shown in Fig. 1 (e), (j) (see Appendix A for further</div>
      <div class="e">details).</div>
    </div>
    <div class="blk" style="top:186.3px;--lh:17.3px;">
      <div class="i">We label each commensurate stacking in real-space</div>
      <div>with three characters, A, B, and C to label from bottom</div>
      <div>to top layers the relative position of the left sublattice of</div>
      <div>the two atoms unit cell of G or BN. For instance, when</div>
      <div>the local AA-stacking region in tBG is AA stacked on top</div>
      <div>of hBN (AA-tBG/BN), a type-1 system gives rise to three</div>
      <div>AAA, ABC, and ACB local stacking at the symmetry</div>
      <div>points, while AAA, ACA, and ABA local stacking appear</div>
      <div>in type-2 systems. We plot each of the commensurate</div>
      <div>stacking configurations of tBG/BN with six small colored</div>
      <div>circles under the moire patterns for type-1 in Fig. 1 (b)-</div>
      <div class="e">(d) and for type-2 in (g)-(i).</div>
    </div>
    <div class="h" style="top:427px;">III.&nbsp;&nbsp; COMMENSURATE TWIST ANGLE SETS</div>
    <div class="blk" style="top:466.3px;--lh:17.3px;">
      <div class="i">Among the many possible commensurate double moire</div>
      <div>patterns<sup>19–21</sup> here we want to focus on the subset that</div>
      <div>can be obtained by requiring two constraints: (1) moire</div>
      <div>length: the moire lengths of tBG and tGBN should be</div>
      <div>the same, and (2) moire angle: the difference of moire</div>
      <div>angle should be 0 (mod 60°). The moire length of tBG</div>
      <div class="e">is</div>
    </div>
    <div class="eq" style="top:611px;"><i>L</i><sup>M</sup><sub>tBG</sub> = <span class="fr"><span><i>a</i><sub>G</sub></span><span>2 sin(<i>θ</i>/2)</span></span>,<span class="n">(8)</span></div>
    <div class="blk" style="top:641.3px;--lh:17.3px;"><div class="e">and the moire length of tGBN is</div></div>
    <div class="eq" style="top:685px;"><i>L</i><sup>M</sup><sub>tGBN</sub> = <span class="fr"><span><i>a</i><sub>G</sub></span><span>√(<i>α</i><sup>2</sup> − 2<i>α</i> cos <i>θ′</i> + 1)</span></span>,<span class="n">(9)</span></div>
    <div class="blk" style="top:716.3px;--lh:17.3px;">
      <div>where <i>α</i> = <i>a</i><sub>G</sub>/<i>a</i><sub>BN</sub> = 1+<i>ε</i> and <i>ε</i> = (<i>a</i><sub>G</sub> − <i>a</i><sub>BN</sub>)/<i>a</i><sub>BN</sub><sup>26</sup> are</div>
      <div>parameters that represent the lattice mismatch between</div>
      <div>two layers. We use for the lattice constant of graphene</div>
      <div><i>a</i><sub>G</sub> = 2.461 Å and boron nitride <i>a</i><sub>BN</sub> = 2.504 Å, which</div>
      <div>results in <i>ε</i> = −0.017172. Here, we use the notation for</div>
      <div>angles measured with respect to the bottom graphene</div>
      <div>(G) layer for convenience since both moire interfaces are</div>
      <div>sharing it; we define <i>θ</i> = <i>θ</i><sub>tBG</sub> as the twist angle of tBG</div>
      <div>which is measured with respect to the bottom G layer</div>
      <div>and <i>θ′</i> = −<i>θ</i><sub>tGBN</sub> is the twist angle of BN measured</div>
      <div>with respect to the contacting bottom G layer at the</div>
      <div>tGBN interface and hence the minus sign. The condition</div>
      <div>for coincident moire lengths <i>L</i><sup>M</sup><sub>tBG</sub> = <i>L</i><sup>M</sup><sub>tGBN</sub> requires the</div>
      <div class="e">following relation between <i>θ</i> and <i>θ′</i></div>
    </div>
    <div class="eq" style="top:992px;"><i>θ</i> = cos<sup>−1</sup> <span style="font-size:26px;vertical-align:middle">[</span><span class="fr"><span>(1 + <i>α</i>)(1 − <i>α</i>) + 2<i>α</i> cos <i>θ′</i></span><span>2</span></span><span style="font-size:26px;vertical-align:middle">]</span>.<span class="n">(10)</span></div>
    <div class="blk" style="top:1022.3px;--lh:17.3px;">
      <div class="i">Accordingly, the rotation angle <i>φ</i> = <i>φ</i><sub>tBG</sub> of the moire</div>
      <div class="e">pattern in tBG with respect to the bottom G layer is<sup>26</sup></div>
    </div>
    <div class="eq" style="top:1086px;"><i>φ</i> = tan<sup>−1</sup> <span style="font-size:26px;vertical-align:middle">(</span><span class="fr"><span>sin <i>θ</i></span><span>cos <i>θ</i> − 1</span></span><span style="font-size:26px;vertical-align:middle">)</span>.<span class="n">(11)</span></div>
  </div>
  <div class="col" style="left:485px;width:372px;">
    <div class="blk" style="top:81.3px;--lh:17.3px;"><div class="e">This expression reduces to</div></div>
    <div class="eq" style="top:132px;"><i>φ</i> = −sgn(<i>θ</i>) <span class="fr"><span><i>π</i></span><span>2</span></span> + <span class="fr"><span><i>θ</i></span><span>2</span></span><span class="n">(12)</span></div>
    <div class="blk" style="top:162.3px;--lh:17.3px;">
      <div>indicating that the moire pattern orientation rotates with</div>
      <div>respect to the bottom G by one half of the total twist</div>
      <div>angle between the graphene layers. On the other hand,</div>
      <div>the tGBN moire pattern rotation angle <i>φ′</i> = <i>φ</i><sub>tGBN</sub></div>
      <div>measured with respect to the bottom G layer is given</div>
      <div class="e">by</div>
    </div>
    <div class="eq" style="top:303px;"><i>φ′</i> = tan<sup>−1</sup> <span style="font-size:26px;vertical-align:middle">(</span><span class="fr"><span><i>α</i> sin <i>θ′</i></span><span><i>α</i> cos <i>θ′</i> − 1</span></span><span style="font-size:26px;vertical-align:middle">)</span>.<span class="n">(13)</span></div>
    <div class="blk" style="top:339.3px;--lh:17.3px;">
      <div>The condition for the two equal period moire patterns to</div>
      <div class="e">be commensurate is</div>
    </div>
    <div class="eq" style="top:401px;">Δ<i>φ</i> = <i>φ′</i> − <i>φ</i> = <span class="fr"><span><i>nπ</i></span><span>3</span></span><span class="n">(14)</span></div>
    <div class="blk" style="top:433.3px;--lh:17.3px;">
      <div>where <i>n</i> is an integer number<sup>19</sup>. There is no analytical</div>
      <div>solution for <i>n</i> = 0 but we have for <i>n</i> = 1 the type-1</div>
      <div>solution at Δ<i>φ</i> = 60° or equivalently, −120° because of</div>
      <div><i>π</i> periodicity of the tangent function, and have for <i>n</i> = 2</div>
      <div>the type-2 solution at Δ<i>φ</i> = −60° or equivalently 120°.</div>
      <div>The rotation of the moire patterns and associated moire</div>
      <div>Brillouin zones are shown graphically in Fig. 1 (a), (f) in</div>
      <div>real-space and Fig. 1 (e), (j), and Fig. A1 in appendix</div>
      <div>A in momentum space. The main differences between</div>
      <div>the two solutions are that in type-1 systems the top G</div>
      <div>layer and bottom hBN layer are rotated in the same sense</div>
      <div><i>e.g.</i> (<i>θ</i> &gt; 0, <i>θ′</i> &gt; 0) with respect to the bottom G layer,</div>
      <div>while in type-2 they are rotated in the opposite directions</div>
      <div>with respect to the bottom G layer <i>e.g.</i> (<i>θ</i> &gt; 0, <i>θ′</i> &lt; 0).</div>
      <div>Imposing equal moire length <i>L</i><sup>M</sup><sub>tBG</sub> = <i>L</i><sup>M</sup><sub>tG/BM</sub> conditions</div>
      <div class="e">from Eqs. (8,9) leads to</div>
    </div>
    <div class="eq" style="top:741px;">4 sin<sup>2</sup>(<i>θ</i>/2) = (<i>α</i> − cos(<i>θ′</i>))<sup>2</sup> + sin<sup>2</sup>(<i>θ′</i>),<span class="n">(15)</span></div>
    <div class="blk" style="top:769.3px;--lh:17.3px;">
      <div>that is equivalent to Eq. (14) with <i>n</i> = 1 when we use</div>
      <div class="e">the <i>θ</i> = 2<i>θ′</i> relation<sup>23,42</sup> reducing to</div>
    </div>
    <div class="eq" style="top:831px;"><i>α</i> ± √3 sin(<i>θ′</i>) = cos(<i>θ′</i>),<span class="n">(16)</span></div>
    <div class="blk" style="top:858.3px;--lh:17.3px;">
      <div>that yields same sign angles for type-1 solutions (<i>θ</i>, <i>θ′</i>) =</div>
      <div>(1.1329°, 0.5664°). The equations for unequal sign angles</div>
      <div>for type-2 solutions can be formulated by combining both</div>
      <div>Eqs. (14,15) for <i>n</i> = 2 and their numerical solutions are</div>
      <div>(<i>θ</i>, <i>θ′</i>) = (1.1463°, −0.5932°). Geometric discussions of</div>
      <div>the double moire commensuration conditions in real and</div>
      <div>momentum space are discussed in Appendix A. The real-</div>
      <div>space moire patterns of the commensurate double moire</div>
      <div>patterns for the three different stackings configurations</div>
      <div>between the top and bottom G layers for both type-1 in</div>
      <div>Fig. 1 (b-d) and type-2 systems are shown in Fig. 1 (g-</div>
      <div>i) where we can clearly see their differences both in the</div>
      <div>real-space patterns as well as in their momentum space</div>
      <div class="e">band structures.</div>
    </div>
  </div>
</div>

<!-- ================= PAGE 5 ================= -->
<div class="pg" style="left:3708px">
  <div class="pn" style="left:862px">5</div>
  <svg id="fig2" width="927" height="400" style="position:absolute;left:0;top:0;font-family:'Liberation Sans',sans-serif">
    <defs>
      <linearGradient id="gHot"><stop offset="0" stop-color="#300000"/><stop offset="0.3" stop-color="#b00000"/><stop offset="0.6" stop-color="#ff6000"/><stop offset="0.85" stop-color="#ffe060"/><stop offset="1" stop-color="#ffffc0"/></linearGradient>
      <linearGradient id="gBlue"><stop offset="0" stop-color="#eef5fb"/><stop offset="1" stop-color="#2a6cb8"/></linearGradient>
      <linearGradient id="gRdBu"><stop offset="0" stop-color="#c02010"/><stop offset="0.4" stop-color="#f8d8c8"/><stop offset="0.6" stop-color="#dce8f4"/><stop offset="1" stop-color="#3070c0"/></linearGradient>
      <linearGradient id="gYOR"><stop offset="0" stop-color="#ffff90"/><stop offset="0.4" stop-color="#f0a030"/><stop offset="0.75" stop-color="#c02010"/><stop offset="1" stop-color="#200000"/></linearGradient>
      <linearGradient id="gJet"><stop offset="0" stop-color="#0000c0"/><stop offset="0.25" stop-color="#00c0ff"/><stop offset="0.5" stop-color="#80ff80"/><stop offset="0.75" stop-color="#ffff00"/><stop offset="0.9" stop-color="#ff4000"/><stop offset="1" stop-color="#800000"/></linearGradient>
      <filter id="hmblur" x="-20%" y="-20%" width="140%" height="140%"><feGaussianBlur stdDeviation="4"/></filter>
    </defs>
    <g id="fig2-heads" font-size="12" text-anchor="middle">
      <text x="198" y="95" font-family="'Liberation Serif',serif" font-size="14">W (meV)</text>
      <text x="362" y="95" font-family="'Liberation Serif',serif" font-size="14"><tspan font-style="italic">δ</tspan><tspan font-size="9" dy="3">s</tspan><tspan dy="-3"> (meV)</tspan></text>
      <text x="484" y="101" font-family="'Liberation Serif',serif" font-size="14"><tspan font-style="italic">δ</tspan><tspan font-size="9" dy="3">p</tspan><tspan dy="-3"> (meV)</tspan></text>
      <text x="646" y="92" font-family="'Liberation Serif',serif" font-size="14">U<tspan font-size="9" dy="3">eff</tspan><tspan dy="-3">/W</tspan></text>
      <text x="810" y="93" font-family="'Liberation Serif',serif" font-size="13">Chern numbers</text>
    </g>
    <g id="fig2-panels"></g>
  </svg>
  <div style="position:absolute;left:84px;top:0;width:773px;font-size:13.6px;">
    <div class="cap" style="top:428px;width:773px;line-height:16px;">FIG. 2.&nbsp;&nbsp; (Color online) Bandwidth W, secondary <i>δ<sub>s</sub></i> and primary <i>δ<sub>p</sub></i> gaps, ratio of the effective Coulomb interaction to W,</div>
    <div class="cap" style="top:444px;width:773px;line-height:16px;">and valley Chern number of conduction and valence band as a function of sliding vector of graphene on graphene <b>τ</b> = (<i>τ<sub>x</sub></i>, <i>τ<sub>y</sub></i>)</div>
    <div class="cap" style="top:460px;width:773px;line-height:16px;">for type-1 (upper row) and type-2 (lower row) systems. The commensurate stacking with a translation by <i>τ<sub>y</sub></i> = <i>a<sub>G</sub></i>/√3 and</div>
    <div class="cap" style="top:476px;line-height:16px;text-align-last:left;"><i>τ<sub>y</sub></i> = 2<i>a<sub>G</sub></i>/√3 along the line <i>τ<sub>x</sub></i> = 0 represents the local-AB and local-BA stackings in tBG respectively.</div>
  </div>
  <div class="col" style="left:82px;width:373px;">
    <div class="h" style="top:524px;">IV.&nbsp;&nbsp; BAND STRUCTURES</div>
    <div class="blk" style="top:568.3px;--lh:17.45px;">
      <div class="i">In this section we present the band structures</div>
      <div>of tBG/BN corresponding to the two types of</div>
      <div>commensurate stacking arrangements introduced in</div>
      <div>earlier sections as a function of moire pattern sliding</div>
      <div>and perpendicular external fields. We will be paying</div>
      <div>attention to the bandwidth, gaps, and electron-hole</div>
      <div>asymmetry. Knowledge of the band structure allows</div>
      <div>to estimate regimes of strong correlations that satisfy</div>
      <div><i>U</i><sub>eff</sub>/<i>W</i> ≳ 1 where the bandwidths <i>W</i> are sufficiently</div>
      <div class="e">narrow versus the effective Coulomb interaction</div>
    </div>
    <div class="eq" style="top:785px;"><i>U</i><sub>eff</sub> = <span class="fr"><span><i>e</i><sup>2</sup></span><span>4<i>πε<sub>r</sub>ε</i><sub>0</sub><i>l<sub>M</sub></i></span></span> exp (−<i>l<sub>M</sub></i>/<i>λ<sub>D</sub></i>)<span class="n">(17)</span></div>
    <div class="blk" style="top:827.3px;--lh:17.45px;">
      <div>where we used the dielectric constant of graphene as</div>
      <div><i>ε<sub>r</sub></i> = 4, the moire length <i>l<sub>M</sub></i> = <i>a<sub>G</sub></i>/(2 sin(<i>θ</i>/2)) ≃ <i>a<sub>G</sub></i>/<i>θ</i></div>
      <div>and the screening length <i>λ<sub>D</sub></i> = 2<i>ε</i><sub>0</sub>/<i>e</i><sup>2</sup><i>D</i>(<i>δ<sub>p</sub></i>, <i>δ<sub>s</sub></i>) that</div>
      <div>depends on the two-dimensional density of states</div>
      <div><i>D</i>(<i>δ<sub>p</sub></i>, <i>δ<sub>s</sub></i>) = 4(|<i>δ<sub>p</sub></i>|<i>u</i>(−<i>δ<sub>p</sub></i>) + |<i>δ<sub>s</sub></i>|<i>u</i>(−<i>δ<sub>s</sub></i>))/(<i>W</i><sup>2</sup><i>A<sub>M</sub></i>)</div>
      <div>defined in terms of the Heaviside step function</div>
      <div><i>u</i>(<i>x</i>) that includes screening due to overlap between</div>
      <div>neighboring bands.<sup>28</sup> The valley Chern number of the</div>
      <div><i>n</i><sup>th</sup> energy band <i>C<sub>n</sub></i> = ∫<sub>mBZ</sub> <i>d</i><sup>2</sup><b>k</b> Ω<sub><i>n</i></sub>(<b>k</b>)/(2<i>π</i>) is obtained</div>
      <div>integrating the Berry curvature<sup>31</sup> given by Ω<sub><i>n</i></sub>(<b>k</b>) =</div>
    </div>
    <div class="blk" style="top:1010px;--lh:19px;"><div class="e">−2 ∑<sub><i>n′</i>≠<i>n</i></sub> Im [⟨<i>n</i>|∂<i>H</i>/∂<i>k<sub>x</sub></i>|<i>n′</i>⟩⟨<i>n′</i>|∂<i>H</i>/∂<i>k<sub>y</sub></i>|<i>n</i>⟩/(<i>E<sub>n′</sub></i> − <i>E<sub>n</sub></i>)<sup>2</sup>].</div></div>
    <div class="blk" style="top:1030.3px;--lh:17.45px;">
      <div>Additional information on the electronic structure can</div>
      <div>be found in appendix C where we present the normalized</div>
      <div>local density of states (LDOS) whose maxima are</div>
      <div class="e">expected at the AA stacking sites of tBG.</div>
    </div>
  </div>
  <div class="col" style="left:482px;width:373px;">
    <div class="h" style="top:524px;">A.&nbsp;&nbsp; Type-1 and type-2 electronic structures</div>
    <div class="blk" style="top:577px;--lh:18.06px;">
      <div class="i">We can distinguish two arrangements of double moire</div>
      <div>patterns that we classify as type-1 and type-2 depending</div>
      <div>on the relative twist of the layers in the tBG and tGBN</div>
      <div>substrate that in turn impacts the relative rotation of</div>
      <div>the associated moire patterns Δ<i>φ</i> = <i>φ′</i> − <i>φ</i>. For double</div>
      <div>moire patterns of type-1 we require a relative rotation</div>
      <div>of Δ<i>φ</i> = −120° or equivalently Δ<i>φ</i> = 60° between the</div>
      <div>mBZ of tBG and tGBN as shown in Fig. 1(e). On</div>
      <div>the other hand, for type-2 we require Δ<i>φ</i> = −60° (see</div>
      <div>Appendix A) or equivalently Δ<i>φ</i> = 120° as shown in</div>
      <div>Fig. 1(j). The impact in the band structure of tBG/BN is</div>
      <div>represented along the high-symmetry line of mBZ of tBG</div>
      <div>(<i>K̃</i> − <i>K̃′</i> − Γ̃ − Γ̃ − <i>K̃</i>), we show the band structures for</div>
      <div>in Fig. 1(b-d) for type-1 and in Fig. 1 (g-i) for type-2 for</div>
      <div>different displacement of the top G layer for an electronic</div>
      <div>structure model with unequal interlayer tunneling value</div>
      <div>that incorporates an effective vertical relaxation<sup>28,29</sup>. In</div>
      <div>our analysis the twist angles of tBG compatible with</div>
      <div>the double commensuration defined by Eqs. (13)-(14)</div>
      <div>essentially depends on the value of the lattice constant</div>
      <div>mismatch <i>α</i> = <i>a</i><sub>G</sub>/<i>a</i><sub>BN</sub>. The double commensuration</div>
      <div>angles <i>θ</i> ≃ 1.13° and <i>θ</i> ≃ 1.14° result from our</div>
      <div>choice of graphene and BN lattice constants. We can</div>
      <div>expect the bandwidths will remain narrow provided that</div>
      <div>these angles remain close to the experimental<sup>32</sup> <i>θ</i><sup>exp</sup><sub>MA</sub> ≃</div>
      <div>1.08° and theoretical<sup>25,28,29</sup> <i>θ</i><sup>th</sup><sub>MA</sub> ≃ 1.05° values where</div>
      <div>flat bands emerge. We estimated the changes in the</div>
      <div>electronic structure for twist angles <i>θ</i> of tBG away from</div>
      <div>the magic angle by using an approximation scheme that</div>
      <div>preserves commensuration with the hBN moire pattern</div>
    </div>
  </div>
</div>

<script>
// ======================= FIGURE 1: band structure data =======================
const kTickLabels = ['K̃', 'K̃′', 'Γ̃', 'Γ̃', 'K̃'];
const kTickPos = [0, 0.22, 0.45, 0.8, 1];
const energyTicks = [0.1, 0.05, 0.0, -0.05, -0.1];
const energyTickLabels = ['0.1', '0.05', '0.0', '-0.05', '-0.1'];
const cond1 = [0.125,0.126,0.127,0.127,0.12,0.095,0.065,0.047,0.06,0.095,0.118,0.095,0.062,0.047,0.065,0.1,0.125];
const cond2 = [0.14,0.14,0.14,0.138,0.13,0.11,0.08,0.058,0.072,0.108,0.13,0.108,0.075,0.058,0.08,0.112,0.14];
const val1 = [-0.125,-0.126,-0.126,-0.126,-0.12,-0.095,-0.062,-0.045,-0.06,-0.095,-0.118,-0.095,-0.06,-0.045,-0.062,-0.1,-0.125];
const val2 = [-0.14,-0.14,-0.14,-0.138,-0.13,-0.11,-0.08,-0.058,-0.072,-0.108,-0.13,-0.108,-0.075,-0.058,-0.08,-0.112,-0.14];
const redBand_b = [0.007,0.007,0.006,0.006,0.005,0.005,0.006,0.008,0.007,0.006,0.006,0.006,0.008,0.01,0.008,0.007,0.007];
const blueBand_b = [-0.003,-0.003,-0.004,-0.004,-0.004,-0.005,-0.006,-0.008,-0.005,-0.004,-0.004,-0.005,-0.007,-0.01,-0.006,-0.004,-0.003];
const redBand_c = [-0.004,-0.004,-0.004,-0.004,-0.003,-0.002,0,0.004,0.001,-0.003,-0.004,-0.003,-0.002,-0.003,-0.004,-0.004,-0.004];
const blueBand_c = [-0.006,-0.006,-0.006,-0.006,-0.006,-0.005,-0.003,0.001,-0.003,-0.006,-0.007,-0.006,-0.005,-0.006,-0.006,-0.006,-0.006];
const redBand_d = [0.012,0.012,0.012,0.012,0.012,0.013,0.013,0.012,0.012,0.012,0.013,0.013,0.012,0.011,0.012,0.012,0.012];
const blueBand_d = [0.006,0.006,0.006,0.005,0.004,0.0,-0.01,-0.02,-0.01,0.002,0.005,0.002,-0.008,-0.018,-0.01,0.002,0.006];
const redBand_g = [0.015,0.016,0.018,0.02,0.02,0.019,0.017,0.015,0.014,0.014,0.015,0.015,0.016,0.016,0.016,0.015,0.015];
const blueBand_g = [-0.008,-0.008,-0.009,-0.01,-0.01,-0.009,-0.007,-0.005,-0.005,-0.006,-0.007,-0.007,-0.006,-0.004,-0.005,-0.007,-0.008];
const redBand_h = [0.022,0.023,0.024,0.026,0.027,0.027,0.026,0.024,0.02,0.018,0.02,0.022,0.02,0.012,0.018,0.022,0.022];
const blueBand_h = [0.004,0.004,0.004,0.004,0.004,0.003,0.001,0.0,0.0,0.002,0.004,0.004,0.002,-0.002,0.0,0.003,0.004];
const redBand_i = [0.02,0.021,0.022,0.024,0.026,0.025,0.02,0.016,0.022,0.027,0.028,0.027,0.022,0.016,0.02,0.022,0.02];
const blueBand_i = [0.004,0.004,0.004,0.003,0.002,0.0,-0.006,-0.012,-0.006,0.001,0.003,0.001,-0.006,-0.012,-0.006,0.001,0.004];
const chernUpper = ['1', '', '-1', '1', '-1', '-1'];
const chernLower = ['-1', '', '1', '-1', '1', '1'];
const dosEnergy = [-0.125,-0.1,-0.08,-0.06,-0.045,-0.03,-0.02,0.02,0.03,0.045,0.06,0.08,0.1,0.125];
const dosValue = [0.5,0.3,0.4,0.25,0.5,0.15,0.05,0.05,0.15,0.5,0.25,0.4,0.3,0.5];
const dosMaxLabel = ['2.5', '5', '5', '2.5', '5', '5'];
const dosSpikeRed = [2.0, 0.8, 4.2, 2.3, 4.4, 4.5];
const dosSpikeBlue = [2.4, 1.2, 3.8, 2.1, 2.0, 3.5];
const hexLabels = [
  ['ABC','ACB','ACB','AAA','ABC','ABC','ACB'],
  ['ABA','ACC','ACC','AAB','ABA','ABA','ACC'],
  ['ABB','ACA','ACA','AAC','ABB','ABB','ACA'],
  ['ACA','ABA','ABA','AAA','ACA','ACA','ABA'],
  ['ACB','ABB','ABB','AAB','ACB','ACB','ABB'],
  ['ACC','ABC','ABC','AAC','ACC','ACC','ABC']
];
const panelNames = ['b','c','d','g','h','i'];
const redBands = [redBand_b, redBand_c, redBand_d, redBand_g, redBand_h, redBand_i];
const blueBands = [blueBand_b, blueBand_c, blueBand_d, blueBand_g, blueBand_h, blueBand_i];

const NS = 'http://www.w3.org/2000/svg';
function mk(tag, attrs, parent) {
  const el = document.createElementNS(NS, tag);
  for (const k in attrs) el.setAttribute(k, attrs[k]);
  if (parent) parent.appendChild(el);
  return el;
}
// layout (pixels)
const bandColX = [394, 544, 696];
const dosColX = [505, 653, 806];
const bandRowY = [324, 675];
const bandRowH = [144, 146];
const hexColX = [464.5, 614.5, 765];
const hexRowY = [221, 567];
const E_MAX = 0.129;

function xK(t, x0, w) { return x0 + t * w; }
function yE(e, y0, h) { return y0 + (E_MAX - e) / (2 * E_MAX) * h; }
function xDos(v, dx, max) { return dx + Math.min(v / max, 1) * 30; }

// hexagon moire patterns
const hexG = document.getElementById('fig1-hex');
const hexOff = [[-27,-48],[27,-48],[-54,0],[0,0],[54,0],[-27,48],[27,48]];
for (let p = 0; p < 6; p++) {
  const cx = hexColX[p % 3], cy = hexRowY[Math.floor(p / 3)], r = 80;
  const pts = [];
  for (let k = 0; k < 6; k++) { const a = Math.PI / 180 * (60 * k - 90); pts.push((cx + r * Math.cos(a)).toFixed(1) + ',' + (cy + r * Math.sin(a)).toFixed(1)); }
  const g = mk('g', {}, hexG);
  
  
  const cp = mk('clipPath', {id: 'hc' + p}, g);
  mk('polygon', {points: pts.join(' ')}, cp);
  const inner = mk('g', {'clip-path': 'url(#hc' + p + ')'}, g);
  mk('polygon', {points: pts.join(' '), fill: '#877a9c'}, inner);
  const bl = mk('g', {filter: 'url(#blur3)'}, inner);
  hexOff.forEach((o, j) => {
    mk('circle', {cx: cx + o[0], cy: cy + o[1], r: 16, fill: (j % 2) ? '#9c98c4' : '#a9a0b8', opacity: 0.8}, bl);
  });
  hexOff.forEach((o, j) => {
    const t = mk('text', {x: cx + o[0], y: cy + o[1] + 3, 'font-size': 7, 'text-anchor': 'middle', 'font-family': 'Liberation Sans, sans-serif', fill: '#222'}, g);
    t.textContent = hexLabels[p][j];
  });
  // stacking legend dots
  const dotCols = ['#9a9ae8','#6a8ad8','#e06060','#c03030','#2040c0','#308030'];
  [[-70,0],[-45,0],[45,0]].forEach(d => {
    for (let rr = 0; rr < 3; rr++) for (let cc = 0; cc < 2; cc++) {
      mk('circle', {cx: cx + d[0] + cc * 5, cy: cy + 66 + rr * 5, r: 1.6, fill: dotCols[rr * 2 + cc]}, g);
    }
  });
}

// band plots
const bandsG = document.getElementById('fig1-bands');
for (let p = 0; p < 6; p++) {
  const col = p % 3, row = Math.floor(p / 3);
  const x0 = bandColX[col], w = 108, y0 = bandRowY[row], h = bandRowH[row], dx = dosColX[col];
  const g = mk('g', {}, bandsG);
  
  
  mk('rect', {x: x0, y: y0, width: w, height: h, fill: '#fff', stroke: '#444', 'stroke-width': 0.8}, g);
  kTickPos.slice(1, 4).forEach(t => {
    mk('line', {x1: xK(t, x0, w), y1: y0, x2: xK(t, x0, w), y2: y0 + h, stroke: '#8fb4dc', 'stroke-width': 1}, g);
  });
  const cpid = 'bc' + p;
  const cp = mk('clipPath', {id: cpid}, g);
  mk('rect', {x: x0, y: y0, width: w, height: h}, cp);
  const lg = mk('g', {'clip-path': 'url(#' + cpid + ')'}, g);
  function poly(arr, color, sw) {
    const pts = arr.map((e, i) => xK(i / (arr.length - 1), x0, w).toFixed(1) + ',' + yE(e, y0, h).toFixed(1)).join(' ');
    const pl = mk('polyline', {points: pts, fill: 'none', stroke: color, 'stroke-width': sw}, lg);
    return pl;
  }
  [cond1, cond2, val1, val2].forEach(a => {
    const l = poly(a, '#222', 1);
    
    
  });
  const rl = poly(redBands[p], '#d01818', 1.3);
  
  
  const bl = poly(blueBands[p], '#1830d8', 1.3);
  
  
  if (chernUpper[p]) {
    const t = mk('text', {x: xK(0.06, x0, w), y: yE(0.04, y0, h), fill: '#d01818', 'font-size': 12, 'font-weight': 'bold'}, g);
    t.textContent = chernUpper[p];
    const t2 = mk('text', {x: xK(0.06, x0, w), y: yE(-0.045, y0, h), fill: '#d01818', 'font-size': 12, 'font-weight': 'bold'}, g);
    t2.textContent = chernLower[p];
  }
  // DOS panel
  mk('rect', {x: dx, y: y0, width: 30, height: h, fill: '#fff', stroke: '#444', 'stroke-width': 0.8}, g);
  const maxv = parseFloat(dosMaxLabel[p]);
  const eR = redBands[p].reduce((a, b) => a + b, 0) / redBands[p].length;
  const eB = blueBands[p].reduce((a, b) => a + b, 0) / blueBands[p].length;
  const pts = [];
  const items = dosEnergy.map((e, i) => [e, dosValue[i]]);
  items.push([eR - 0.002, 0], [eR, dosSpikeRed[p]], [eR + 0.002, 0]);
  items.push([eB - 0.002, 0], [eB, dosSpikeBlue[p]], [eB + 0.002, 0]);
  items.sort((a, b) => b[0] - a[0]);
  pts.push(dx + ',' + y0);
  items.forEach(it => pts.push(xDos(it[1], dx, maxv).toFixed(1) + ',' + yE(it[0], y0, h).toFixed(1)));
  pts.push(dx + ',' + (y0 + h));
  const dos = mk('polygon', {points: pts.join(' '), fill: '#2040e0', stroke: '#1020c0', 'stroke-width': 0.6}, g);
  
  
  const ul = mk('text', {x: dx + 30, y: y0 - 6, 'font-size': 7, 'text-anchor': 'end', 'font-family': 'Liberation Serif, serif'}, g);
  ul.textContent = '10¹⁶ eV⁻¹cm⁻²';
  const d0 = mk('text', {x: dx + 1, y: y0 + h + 11, 'font-size': 9}, g);
  d0.textContent = '0';
  const d1 = mk('text', {x: dx + 24, y: y0 + h + 11, 'font-size': 9, 'text-anchor': 'middle'}, g);
  d1.textContent = dosMaxLabel[p];
  if (col === 0) {
    energyTicks.forEach((e, i) => {
      const t = mk('text', {x: x0 - 5, y: yE(e, y0, h) + 4, 'font-size': 11, 'text-anchor': 'end'}, g);
      t.textContent = energyTickLabels[i];
    });
    const yl = mk('text', {x: 0, y: 0, 'font-size': 12, 'text-anchor': 'middle', transform: 'translate(' + (x0 - 40) + ',' + (y0 + h / 2) + ') rotate(-90)'}, g);
    yl.textContent = 'E (eV)';
  }
  if (row === 1) {
    kTickLabels.forEach((lab, i) => {
      const t = mk('text', {x: xK(kTickPos[i], x0, w), y: y0 + h + 12, 'font-size': 10, 'text-anchor': 'middle', 'font-family': 'Liberation Serif, serif'}, g);
      t.textContent = lab;
    });
  }
}

// ======================= FIGURE 2: heatmap panels =======================
const groupTitles = ['W (meV)', 'δs (meV)', 'δp (meV)', 'Ueff/W', 'Chern numbers'];
const subTitles = ['Conduction', 'Valence', 'Conduction', 'Valence', '', 'Conduction', 'Valence', 'Conduction', 'Valence'];
const rowLabels = ['Type-1', 'Type-2'];
const cbarTicksType1 = [['5','10','15'],['5','10','15'],['26','29','32'],['5','20','35'],['-10','-5','0','5','10']];
const cbarTicksType2 = [['5','10','15'],['5','10','15'],['20','24','28'],['16','25','35'],['-10','-5','0','5','10']];
const ueffTicks = ['0','2','4','6'];
const chernTicks = ['-1','0','1'];
const yTickLabels = ['0', 'aG/√3', '2aG/√3', 'aG√3'];
const hmBaseType1 = ['#f5b838','#e6d498','#4a8cc8','#3a7cc0','#d6e6f4','#f0a030','#f8d040','#80e080','#0010f0'];
const hmBaseType2 = ['#f0c040','#e8d890','#5a98d0','#6aa4d8','#c8dcf0','#f0b830','#f4cc30','#80e080','#80e080'];
const hmBlobsType1 = [
  [[0.5,0.85,0.3,'#8b0000'],[0.5,0.45,0.22,'#d03010'],[0.5,0.45,0.08,'#ffe060'],[0.85,0.12,0.2,'#c02000'],[0.1,0.12,0.15,'#c83010'],[0.05,0.55,0.15,'#900000'],[0.95,0.55,0.15,'#a01000']],
  [[0.45,0.1,0.3,'#8b0000'],[0.2,0.3,0.25,'#c8c8c8'],[0.7,0.75,0.25,'#c8c8c8'],[0.1,0.55,0.2,'#a01000'],[0.9,0.45,0.2,'#b01000'],[0.8,0.95,0.2,'#c02010']],
  [[0.5,0.45,0.18,'#c8def0'],[0.2,0.25,0.12,'#c8def0'],[0.8,0.25,0.12,'#c8def0'],[0.5,0.8,0.1,'#b0d0ec'],[0.3,0.9,0.25,'#2a6cb0']],
  [[0.5,0.8,0.15,'#b8d4ec'],[0.2,0.1,0.2,'#6aa0d8'],[0.6,0.3,0.3,'#2a64a8']],
  [[0.5,0.15,0.2,'#e04010'],[0.65,0.45,0.15,'#e07030'],[0.3,0.45,0.1,'#e08040'],[0.2,0.75,0.15,'#e09050'],[0.8,0.75,0.12,'#e08040'],[0.5,0.95,0.15,'#d05020'],[0.2,0.2,0.15,'#8ab4dc'],[0.8,0.2,0.15,'#8ab4dc']],
  [[0.15,0.15,0.22,'#ffffff'],[0.8,0.3,0.24,'#ffffff'],[0.5,0.55,0.15,'#ffffff'],[0.8,0.75,0.22,'#ffffff'],[0.4,0.85,0.2,'#c83010'],[0.2,0.55,0.15,'#e06020']],
  [[0.25,0.15,0.22,'#ffffff'],[0.8,0.15,0.2,'#ffffff'],[0.2,0.6,0.2,'#ffffff'],[0.85,0.55,0.2,'#ffffff'],[0.5,0.9,0.15,'#ffffff'],[0.4,0.3,0.15,'#c03010'],[0.6,0.75,0.15,'#e06020']],
  [[0.3,0.2,0.35,'#800000'],[0.7,0.6,0.3,'#800000'],[0.1,0.4,0.2,'#0010f0'],[0.5,0.85,0.25,'#0010f0']],
  [[0.5,0.3,0.25,'#80e080'],[0.3,0.7,0.2,'#80e080'],[0.8,0.8,0.2,'#80e080'],[0.5,0.25,0.15,'#800000'],[0.6,0.8,0.2,'#800000']]
];
const hmBlobsType2 = [
  [[0.3,0.3,0.2,'#c0c0c0'],[0.3,0.85,0.2,'#c0c0c0'],[0.8,0.6,0.2,'#c8c8c8'],[0.5,0.55,0.15,'#a01000'],[0.8,0.15,0.15,'#c02010'],[0.15,0.6,0.1,'#c83010']],
  [[0.3,0.4,0.25,'#c8c8c8'],[0.7,0.75,0.25,'#d0d0d0'],[0.6,0.25,0.15,'#c02010'],[0.4,0.6,0.12,'#d04010'],[0.2,0.9,0.12,'#d04010']],
  [[0.3,0.35,0.12,'#c0d8f0'],[0.7,0.55,0.12,'#c0d8f0'],[0.5,0.8,0.1,'#a0c4e8'],[0.5,0.15,0.2,'#3070b8']],
  [[0.3,0.5,0.2,'#c8def2'],[0.8,0.3,0.15,'#c0d8f0'],[0.5,0.95,0.2,'#d0e4f4'],[0.5,0.2,0.2,'#3a78c0']],
  [[0.5,0.5,0.2,'#2060b0'],[0.3,0.25,0.08,'#e0a050'],[0.7,0.4,0.08,'#e08040'],[0.3,0.7,0.08,'#e0a050'],[0.8,0.8,0.08,'#e08040'],[0.1,0.5,0.08,'#e09040']],
  [[0.3,0.15,0.08,'#ffffff'],[0.8,0.35,0.1,'#ffffff'],[0.2,0.6,0.08,'#ffffff'],[0.7,0.8,0.1,'#ffffff'],[0.5,0.95,0.1,'#ffffff'],[0.4,0.45,0.15,'#e06020'],[0.6,0.7,0.12,'#d05020']],
  [[0.3,0.2,0.08,'#ffffff'],[0.8,0.2,0.08,'#ffffff'],[0.7,0.6,0.1,'#ffffff'],[0.3,0.85,0.1,'#ffffff'],[0.5,0.45,0.15,'#e89030']],
  [[0.6,0.2,0.3,'#0010f0'],[0.1,0.55,0.2,'#0010f0'],[0.3,0.85,0.15,'#0010f0'],[0.5,0.5,0.25,'#800000'],[0.6,0.9,0.2,'#800000'],[0.05,0.05,0.1,'#800000']],
  [[0.5,0.2,0.3,'#800000'],[0.6,0.85,0.25,'#800000'],[0.5,0.5,0.25,'#0010f0'],[0.1,0.3,0.15,'#0010f0'],[0.95,0.6,0.15,'#0010f0']]
];
const cbarGrad = ['gHot','gHot','gBlue','gBlue','gRdBu'];

// layout (pixels)
const panelLeft = [122, 203, 285, 367, 448, 530, 610, 692, 775];
const PW = 72;
const rowTop = [127, 261];
const PH = [110, 109];

const f2 = document.getElementById('fig2-panels');
function txt(parent, x, y, s, attrs) {
  const t = mk('text', Object.assign({x: x, y: y}, attrs || {}), parent);
  t.textContent = s;
  return t;
}
// sub titles
subTitles.forEach((s, i) => { if (s) txt(f2, panelLeft[i] + PW / 2, 110, s, {'font-size': 11.5, 'text-anchor': 'middle'}); });
for (let r = 0; r < 2; r++) {
  const y0 = rowTop[r], h = PH[r];
  const bases = r === 0 ? hmBaseType1 : hmBaseType2;
  const blobs = r === 0 ? hmBlobsType1 : hmBlobsType2;
  const ticks = r === 0 ? cbarTicksType1 : cbarTicksType2;
  txt(f2, 82, y0 - 8, rowLabels[r], {'font-size': 12});
  for (let i = 0; i < 9; i++) {
    const x0 = panelLeft[i];
    const g = mk('g', {}, f2);
    
    
    const cid = 'hm' + r + '_' + i;
    const cp = mk('clipPath', {id: cid}, g);
    mk('rect', {x: x0, y: y0, width: PW, height: h}, cp);
    const inner = mk('g', {'clip-path': 'url(#' + cid + ')'}, g);
    mk('rect', {x: x0, y: y0, width: PW, height: h, fill: bases[i]}, inner);
    const bg = mk('g', i >= 7 ? {} : {filter: 'url(#hmblur)'}, inner);
    blobs[i].forEach(b => {
      const c = mk('ellipse', {cx: x0 + b[0] * PW, cy: y0 + b[1] * h, rx: b[2] * PW, ry: b[2] * PW * 1.2, fill: b[3]}, bg);
      
      
    });
    mk('rect', {x: x0, y: y0, width: PW, height: h, fill: 'none', stroke: '#999', 'stroke-width': 0.5}, g);
    // colorbar
    if (i < 5) {
      const cb = mk('rect', {x: x0 + 4, y: y0 - 8, width: 64, height: 6, fill: 'url(#' + cbarGrad[i] + ')'}, g);
      
      
      const tk = ticks[i];
      tk.forEach((s, j) => txt(g, x0 + 4 + j * 64 / (tk.length - 1), y0 - 11, s, {'font-size': 8, 'text-anchor': 'middle'}));
    }
    if (r === 1) {
      txt(g, x0 + 2, y0 + h + 10, '0', {'font-size': 8});
      txt(g, x0 + PW - 2, y0 + h + 10, 'aG', {'font-size': 8, 'text-anchor': 'end', 'font-style': 'italic'});
      txt(g, x0 + PW / 2, y0 + h + 20, 'τx', {'font-size': 12, 'text-anchor': 'middle', 'font-family': 'Liberation Serif, serif', 'font-style': 'italic'});
    }
  }
  // shared colorbars
  const ucb = mk('rect', {x: 571, y: y0 - 8, width: 63, height: 6, fill: 'url(#gYOR)'}, f2);
  
  
  ueffTicks.forEach((s, j) => txt(f2, 571 + j * 63 / 3, y0 - 11, s, {'font-size': 8, 'text-anchor': 'middle'}));
  const ccb = mk('rect', {x: 738, y: y0 - 8, width: 62, height: 6, fill: 'url(#gJet)'}, f2);
  
  
  chernTicks.forEach((s, j) => txt(f2, 738 + j * 31, y0 - 11, s, {'font-size': 8, 'text-anchor': 'middle'}));
  // y axis
  yTickLabels.forEach((s, j) => {
    const yy = y0 + h - j * h / 3;
    txt(f2, 0, 0, s, {'font-size': 6.5, 'text-anchor': 'middle', transform: 'translate(' + 117 + ',' + yy + ') rotate(-90)', 'font-family': 'Liberation Serif, serif'});
  });
  txt(f2, 0, 0, 'τy', {'font-size': 13, 'text-anchor': 'middle', transform: 'translate(' + 100 + ',' + (y0 + h / 2) + ') rotate(-90)', 'font-family': 'Liberation Serif, serif', 'font-style': 'italic'});
}
</script>
</body>
</html>
